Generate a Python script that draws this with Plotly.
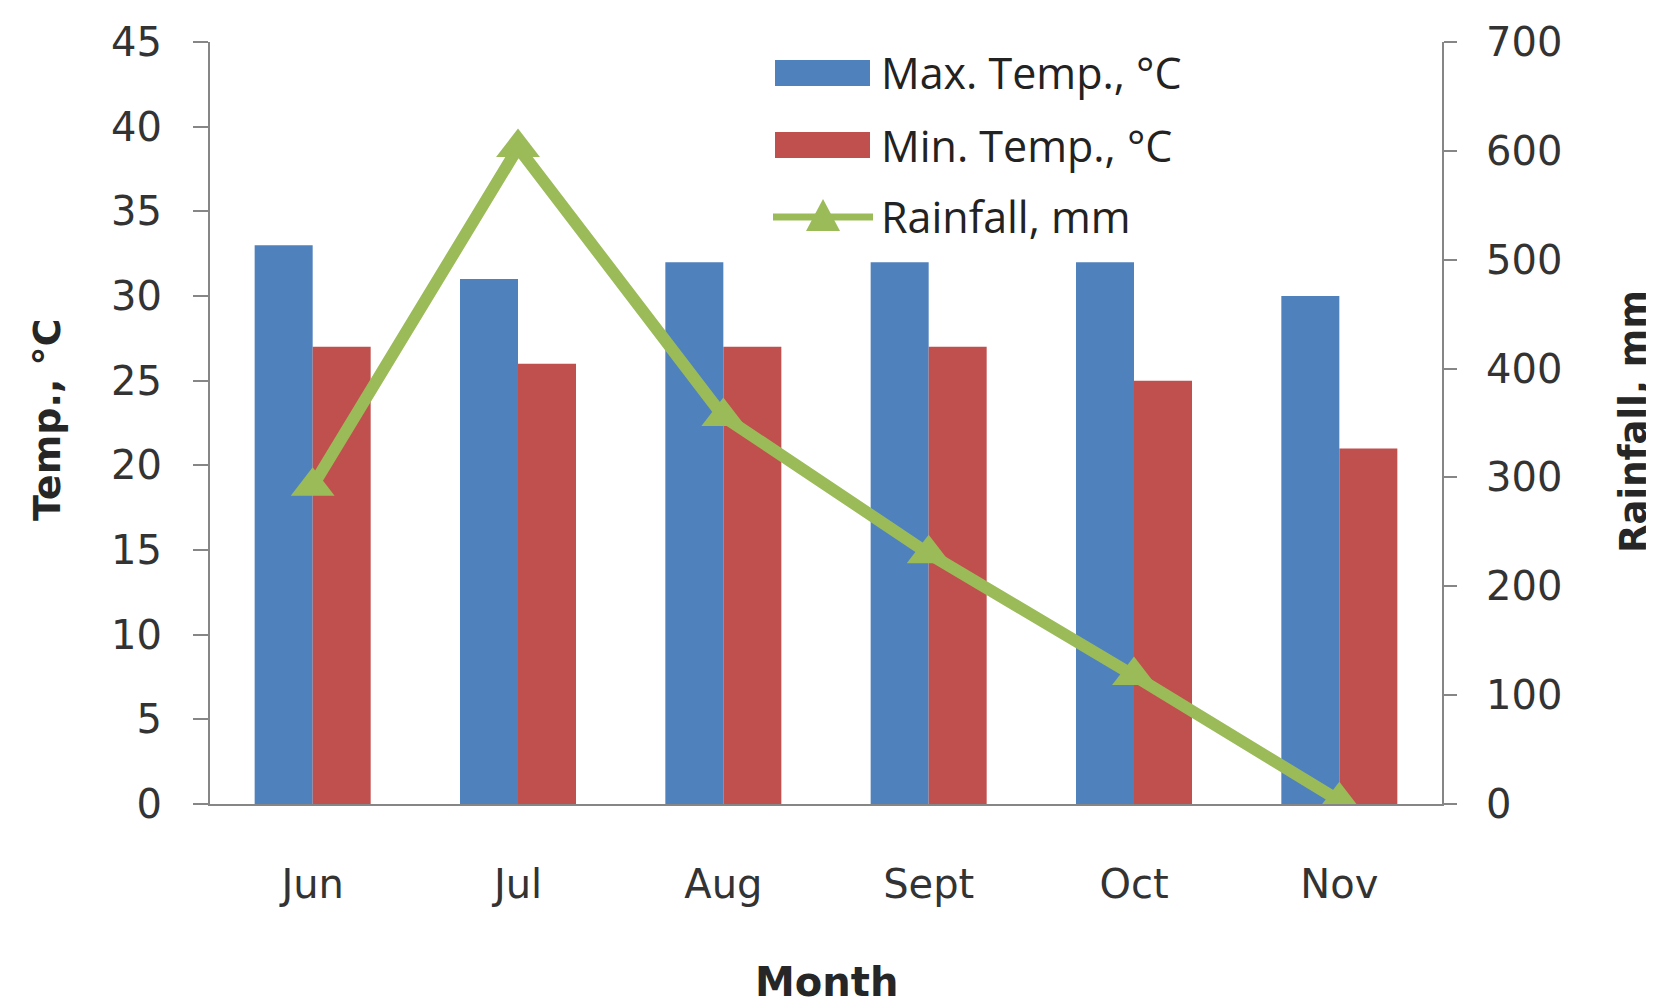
import plotly.graph_objects as go

months = ["Jun", "Jul", "Aug", "Sept", "Oct", "Nov"]
max_temp = [33, 31, 32, 32, 32, 30]
min_temp = [27, 26, 27, 27, 25, 21]
rainfall = [292, 603, 356, 230, 118, 3]
series_names = ["Max. Temp., °C", "Min. Temp., °C", "Rainfall, mm"]

blue = "#4F81BD"
red = "#C0504D"
green = "#9BBB59"
axis_col = "#868686"
text_col = "#262626"
tick_font = dict(family="DejaVu Sans", size=40, color="#333333")
title_font = dict(family="DejaVu Sans", size=37, color=text_col)

# the page body adds an 8px margin; figure is sized to fit the window
OFF = 8
FIG_W, FIG_H = 1654 - OFF, 1007 - OFF

# plot area in page pixels
L, R, T, B = 210, 1442, 42, 804
W, H = R - L, B - T


def px(xp):
    return (xp - L) / W


def py(yp):
    return (B - yp) / H


fig = go.Figure()
fig.add_trace(go.Bar(x=months, y=max_temp, name=series_names[0], marker_color=blue,
                     marker_line_width=0, showlegend=False))
fig.add_trace(go.Bar(x=months, y=min_temp, name=series_names[1], marker_color=red,
                     marker_line_width=0, showlegend=False))
fig.add_trace(go.Scatter(x=months, y=rainfall, name=series_names[2], yaxis="y2",
                         mode="lines+markers", showlegend=False,
                         line=dict(color=green, width=12),
                         marker=dict(symbol="triangle-up", size=38, color=green)))

# custom legend (swatches + labels)
shapes = []
annotations = []
leg_x0, leg_x1 = 775, 870
rows = [73, 145, 217]
shapes.append(dict(type="rect", xref="paper", yref="paper",
                   x0=px(leg_x0), x1=px(leg_x1), y0=py(rows[0] + 13), y1=py(rows[0] - 13),
                   fillcolor=blue, line_width=0))
shapes.append(dict(type="rect", xref="paper", yref="paper",
                   x0=px(leg_x0), x1=px(leg_x1), y0=py(rows[1] + 13), y1=py(rows[1] - 13),
                   fillcolor=red, line_width=0))
shapes.append(dict(type="line", xref="paper", yref="paper",
                   x0=px(773), x1=px(873), y0=py(rows[2]), y1=py(rows[2]),
                   line=dict(color=green, width=7)))
tx, ty = 823, rows[2]
shapes.append(dict(type="path", xref="paper", yref="paper",
                   path=f"M {px(tx-17)},{py(ty+14)} L {px(tx+17)},{py(ty+14)} L {px(tx)},{py(ty-18)} Z",
                   fillcolor=green, line_width=0))
for name, yy in zip(series_names, rows):
    annotations.append(dict(text=name, xref="paper", yref="paper", x=px(879), y=py(yy),
                            xanchor="left", yanchor="middle", showarrow=False,
                            font=dict(family="Open Sans", size=43, color="#222222")))

# axis titles
annotations.append(dict(text="<b>Temp., °C</b>", xref="paper", yref="paper",
                        x=px(47), y=py(420), xanchor="center", yanchor="middle",
                        textangle=-90, showarrow=False,
                        font=dict(family="DejaVu Sans", size=38, color=text_col)))
annotations.append(dict(text="<b>Rainfall, mm</b>", xref="paper", yref="paper",
                        x=px(1633), y=py(422), xanchor="center", yanchor="middle",
                        textangle=-90, showarrow=False, font=title_font))
annotations.append(dict(text="<b>Month</b>", xref="paper", yref="paper",
                        x=px(826), y=py(982), xanchor="center", yanchor="middle",
                        showarrow=False, font=dict(family="DejaVu Sans", size=40, color=text_col)))

fig.update_layout(
    width=FIG_W, height=FIG_H,
    paper_bgcolor="white", plot_bgcolor="white",
    margin=dict(l=L - OFF, r=FIG_W - (R - OFF), t=T - OFF, b=FIG_H - (B - OFF)),
    barmode="group", bargap=0.435, bargroupgap=0,
    showlegend=False,
    shapes=shapes, annotations=annotations,
    xaxis=dict(showline=True, linecolor=axis_col, linewidth=2, ticks="",
               tickfont=tick_font, ticklabelstandoff=44, automargin=False),
    yaxis=dict(range=[0, 45], dtick=5, showgrid=False, zeroline=False,
               showline=True, linecolor=axis_col, linewidth=2,
               ticks="outside", ticklen=15, tickcolor=axis_col, tickwidth=2,
               tickfont=tick_font, ticklabelstandoff=23, automargin=False),
    yaxis2=dict(range=[0, 700], dtick=100, overlaying="y", side="right",
                showgrid=False, zeroline=False,
                showline=True, linecolor=axis_col, linewidth=2,
                ticks="outside", ticklen=13, tickcolor=axis_col, tickwidth=2,
                tickfont=tick_font, ticklabelstandoff=21, automargin=False),
)

fig.write_html("out.html")
